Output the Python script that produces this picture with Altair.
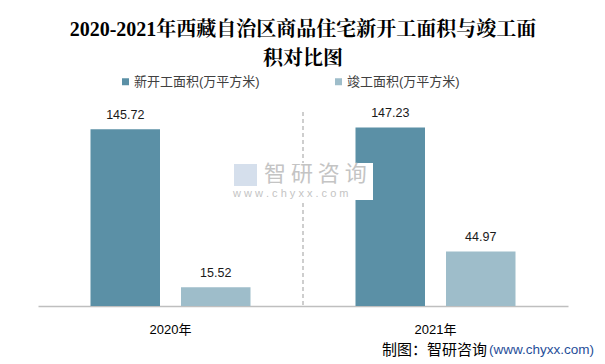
import altair as alt
import pandas as pd

years = ["2020年", "2021年"]
series = ["新开工面积(万平方米)", "竣工面积(万平方米)"]
new_start = [145.72, 147.23]
completed = [15.52, 44.97]
colors = ["#5B90A6", "#9EBDCA"]

title_lines = ["2020-2021年西藏自治区商品住宅新开工面积与竣工面", "积对比图"]
source_black = "制图：智研咨询"
source_blue = "(www.chyxx.com)"

rows = []
for i, y in enumerate(years):
    rows.append({"year": y, "series": series[0], "value": new_start[i], "label": f"{new_start[i]:.2f}"})
    rows.append({"year": y, "series": series[1], "value": completed[i], "label": f"{completed[i]:.2f}"})
df = pd.DataFrame(rows)

SANS = "Liberation Sans, Noto Sans CJK SC, sans-serif"
W, H = 530, 194

x_enc = alt.X("year:N", sort=years,
              scale=alt.Scale(paddingInner=0, paddingOuter=0),
              axis=alt.Axis(title=None, labelAngle=0, ticks=False, grid=False,
                            domainColor="#BFBFBF", domainWidth=1.5,
                            labelFontSize=13, labelPadding=17, labelColor="#000000",
                            labelFont=SANS))
xo_enc = alt.XOffset("series:N", sort=series,
                     scale=alt.Scale(paddingInner=0.232, paddingOuter=0.58))
y_enc = alt.Y("value:Q", scale=alt.Scale(domain=[0, 160]), axis=None)

base = alt.Chart(df)

bars = base.mark_bar().encode(
    x=x_enc, xOffset=xo_enc, y=y_enc,
    color=alt.Color("series:N", sort=series,
                    scale=alt.Scale(domain=series, range=colors),
                    legend=alt.Legend(title=None, orient="none", legendX=81, legendY=-37,
                                      direction="horizontal", symbolType="square",
                                      symbolSize=49, symbolStrokeWidth=0,
                                      labelFontSize=13, labelFont=SANS,
                                      labelColor="#404040", columnPadding=72,
                                      labelOffset=2, padding=0, labelLimit=300)),
)

labels = base.mark_text(dy=-14, baseline="middle", fontSize=12.5, font=SANS,
                        color="#1a1a1a").encode(
    x=x_enc, xOffset=xo_enc, y=y_enc, text="label:N")

sep = alt.Chart(pd.DataFrame({"k": [0]})).mark_rule(
    color="#BFBFBF", strokeDash=[4, 3], strokeWidth=1.5).encode(
    x=alt.value(265), y=alt.value(0), y2=alt.value(H))

# watermark
wm_box = alt.Chart(pd.DataFrame({"k": [0]})).mark_rect(color="white").encode(
    x=alt.value(192), x2=alt.value(335), y=alt.value(51), y2=alt.value(88))
wm_text = alt.Chart(pd.DataFrame({"t": ["智 研 咨 询"]})).mark_text(
    align="left", baseline="middle", fontSize=22, font="Noto Sans CJK SC",
    color="#C4C4C4").encode(
    text="t:N", x=alt.value(226), y=alt.value(62))
wm_url = alt.Chart(pd.DataFrame({"t": ["w w w . c h y x x . c o m"]})).mark_text(
    align="left", baseline="middle", fontSize=11, font=SANS,
    color="#C4C4C4").encode(
    text="t:N", x=alt.value(195), y=alt.value(82))
wm_logo = alt.Chart(pd.DataFrame({"k": [0]})).mark_rect(color="#D5DFEC").encode(
    x=alt.value(196), x2=alt.value(219), y=alt.value(52), y2=alt.value(74))

src1 = alt.Chart(pd.DataFrame({"t": [source_blue]})).mark_text(
    align="right", baseline="middle", fontSize=13.5, font=SANS,
    color="#1F4E99").encode(text="t:N", x=alt.value(556), y=alt.value(238))
src2 = alt.Chart(pd.DataFrame({"t": [source_black]})).mark_text(
    align="right", baseline="middle", fontSize=15, font="Noto Sans CJK SC",
    color="#000000").encode(text="t:N", x=alt.value(449), y=alt.value(238))

chart = alt.layer(bars, labels, sep, wm_box, wm_logo, wm_text, wm_url, src1, src2).properties(
    width=W, height=H,
    title=alt.TitleParams(text=title_lines, fontSize=20, fontWeight="bold",
                          font="Liberation Serif, Noto Serif CJK SC, Noto Sans CJK SC, serif",
                          color="#000000", anchor="middle", lineHeight=29, offset=6),
    autosize=alt.AutoSizeParams(type="none"),
    padding={"left": 30, "top": 104, "right": 29, "bottom": 55},
    background="white",
).configure_view(stroke=None)

chart.save("out.html", embed_options={"renderer": "svg", "actions": False})
